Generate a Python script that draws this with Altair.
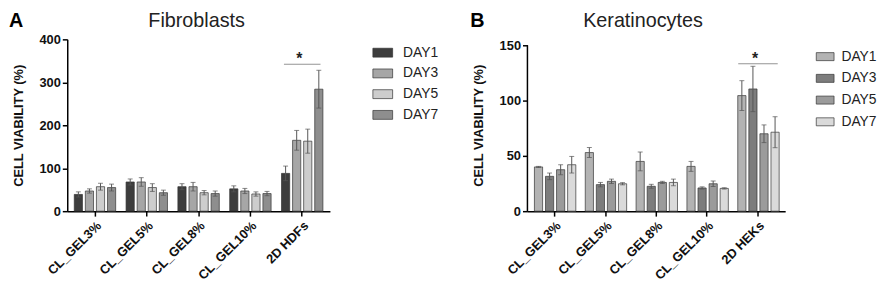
import altair as alt
import pandas as pd

days = ["DAY1", "DAY3", "DAY5", "DAY7"]

# Fibroblasts (panel A)
cats_a = ["CL_GEL3%", "CL_GEL5%", "CL_GEL8%", "CL_GEL10%", "2D HDFs"]
a_day1 = [39, 68, 57, 52, 88]
a_day3 = [47, 68, 57, 47, 165]
a_day5 = [57, 55, 43, 40, 163]
a_day7 = [55, 43, 41, 41, 284]
a_err1 = [6, 7, 7, 7, 17]
a_err3 = [5, 10, 10, 6, 23]
a_err5 = [8, 9, 5, 5, 28]
a_err7 = [8, 6, 6, 5, 44]

# Keratinocytes (panel B)
cats_b = ["CL_GEL3%", "CL_GEL5%", "CL_GEL8%", "CL_GEL10%", "2D HEKs"]
b_day1 = [40, 53, 45, 40.5, 104.5]
b_day3 = [31.5, 24, 22.5, 21, 110.5]
b_day5 = [37.5, 27, 26, 24.8, 70]
b_day7 = [42, 24.8, 26, 20.6, 71.4]
b_err1 = [0.5, 4.5, 8.5, 4.5, 13.5]
b_err3 = [3, 2, 1.8, 1, 20.5]
b_err5 = [4.5, 2, 1, 2.5, 8]
b_err7 = [7.5, 1, 3, 0.6, 14]

colors_a = ["#3d3d3d", "#a6a6a6", "#cdcdcd", "#8e8e8e"]
colors_b = ["#b3b3b3", "#7d7d7d", "#9b9b9b", "#dadada"]

FONT = "Liberation Sans"
RECT = "M-1,-0.45L1,-0.45L1,0.45L-1,0.45Z"


def make_df(cats, vals, errs):
    rows = []
    for d, v, e in zip(days, vals, errs):
        for c, vv, ee in zip(cats, v, e):
            rows.append(dict(cat=c, day=d, value=vv, lo=vv - ee, hi=vv + ee))
    return pd.DataFrame(rows)


df_a = make_df(cats_a, [a_day1, a_day3, a_day5, a_day7], [a_err1, a_err3, a_err5, a_err7])
df_b = make_df(cats_b, [b_day1, b_day3, b_day5, b_day7], [b_err1, b_err3, b_err5, b_err7])


def panel(df, cats, colors, ydomain, yvalues, show_domain, title, tx, ty, letter,
          lx, ly, sig_y, sig_size, legx, legy, sym, loff, rpad, width, height):
    xaxis = alt.Axis(title=None, labelAngle=-45, labelAlign="right", labelBaseline="top",
                     labelPadding=3, bandPosition=0.5)
    xenc = alt.X("cat:N", sort=cats, axis=xaxis,
                 scale=alt.Scale(paddingInner=0, paddingOuter=0.035))
    xo = alt.XOffset("day:N", sort=days,
                     scale=alt.Scale(paddingInner=0.26, paddingOuter=0.47))

    def yenc(field):
        return alt.Y(field, title="CELL VIABILITY (%)",
                     scale=alt.Scale(domain=ydomain, nice=False, zero=True),
                     axis=alt.Axis(values=yvalues, domain=show_domain, titlePadding=14))

    color = alt.Color("day:N", sort=days, scale=alt.Scale(domain=days, range=colors),
                      legend=alt.Legend(title=None, orient="none", legendX=legx, legendY=legy,
                                        symbolType=RECT, symbolSize=sym,
                                        symbolStrokeColor="#333", symbolStrokeWidth=0.7,
                                        symbolOpacity=1, labelFont=FONT, labelFontSize=14,
                                        labelColor="#222", labelOffset=loff, rowPadding=rpad))
    base = alt.Chart(df)
    bars = base.mark_bar(stroke="#333", strokeWidth=0.7).encode(
        x=xenc, xOffset=xo, y=yenc("value:Q"), color=color)
    rules = base.mark_rule(color="#555", strokeWidth=1).encode(
        x=xenc, xOffset=xo, y=yenc("lo:Q"), y2="hi:Q")
    cap_hi = base.mark_tick(color="#555", size=5, thickness=1).encode(
        x=xenc, xOffset=xo, y=yenc("hi:Q"))
    cap_lo = base.mark_tick(color="#555", size=5, thickness=1).encode(
        x=xenc, xOffset=xo, y=yenc("lo:Q"))

    sig_df = pd.DataFrame({"cat": [cats[-1]], "sig": [sig_y], "star": ["*"]})
    sig_line = alt.Chart(sig_df).mark_tick(color="#666", size=sig_size, thickness=1.2).encode(
        x=xenc, y=yenc("sig:Q"))
    sig_star = alt.Chart(sig_df).mark_text(fontSize=16, fontWeight="bold", font=FONT,
                                           baseline="alphabetic", dx=-3, color="#222").encode(
        x=xenc, y=yenc("sig:Q"), text="star:N")

    text_df = pd.DataFrame({"t": [letter], "title": [title]})
    let = alt.Chart(text_df).mark_text(fontSize=20, fontWeight="bold", font=FONT,
                                       align="left", baseline="alphabetic", color="#000").encode(
        text="t:N", x=alt.value(lx), y=alt.value(ly))
    ttl = alt.Chart(text_df).mark_text(fontSize=20, font=FONT, align="center",
                                       baseline="alphabetic", color="#222").encode(
        text="title:N", x=alt.value(tx), y=alt.value(ty))

    layers = [bars, rules, cap_hi, cap_lo, sig_line, sig_star, let, ttl]
    if not show_domain:
        ax_df = pd.DataFrame({"a": [yvalues[0]], "b": [yvalues[-1]]})
        axline = alt.Chart(ax_df).mark_rule(color="#000", strokeWidth=1.5).encode(
            x=alt.value(0), y=yenc("a:Q"), y2="b:Q")
        layers.append(axline)

    return alt.layer(*layers).properties(width=width, height=height)


chart_a = panel(df_a, cats_a, colors_a, [0, 400], [0, 100, 200, 300, 400], True,
                "Fibroblasts", 131, -13, "A", -59, -13, 342, 37, 309, 3, 400, 10, 3, 266, 174)
chart_b = panel(df_b, cats_b, colors_b, [0, 150 * 174 / 168], [0, 50, 100, 150], False,
                "Keratinocytes", 117, -13, "B", -58, -13, 133.3, 40, 292, 8, 324, 7, 5, 261, 174)

chart = alt.hconcat(chart_a, chart_b, spacing=30).resolve_scale(
    color="independent", x="independent", y="independent"
).properties(padding=0).configure_view(stroke="transparent").configure_axis(
    grid=False, domainColor="#000", domainWidth=1.5, tickColor="#000", tickWidth=1.5,
    tickSize=5, labelFont=FONT, labelFontWeight="bold", labelFontSize=13, labelColor="#111",
    titleFont=FONT, titleFontWeight="bold", titleFontSize=13, titleColor="#111"
)

chart.save("out.html", embed_options={"renderer": "svg", "actions": False})
